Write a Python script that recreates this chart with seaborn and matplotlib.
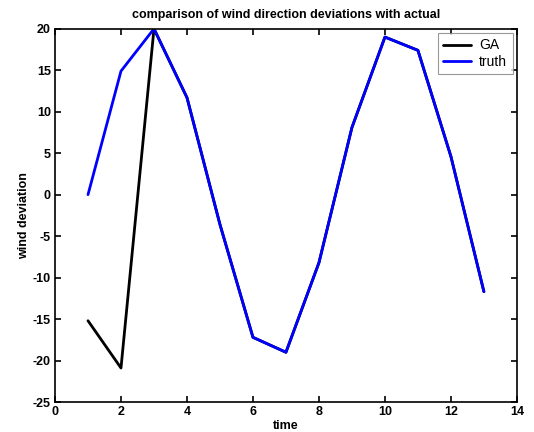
import pandas as pd
import matplotlib
matplotlib.use("Agg")
import matplotlib.pyplot as plt
import seaborn as sns

time = [1, 2, 3, 4, 5, 6, 7, 8, 9, 10, 11, 12, 13]
truth = [0.0, 14.9, 20.0, 11.7, -3.6, -17.2, -19.0, -8.2, 8.1, 19.0, 17.4, 4.6, -11.7]
ga = [-15.2, -20.9, 20.0, 11.7, -3.6, -17.2, -19.0, -8.2, 8.1, 19.0, 17.4, 4.6, -11.7]

df = pd.DataFrame({
    "time": time * 2,
    "value": ga + truth,
    "series": ["GA"] * len(ga) + ["truth"] * len(truth),
})

sns.set_style("ticks", {"axes.edgecolor": "black", "text.color": "black",
                        "xtick.color": "black", "ytick.color": "black",
                        "axes.labelcolor": "black"})
plt.rcParams["font.family"] = ["Liberation Sans", "DejaVu Sans"]
plt.rcParams["axes.unicode_minus"] = False

fig = plt.figure(figsize=(5.34, 4.32), dpi=100)
ax = fig.add_axes([0.103, 0.0694, 0.865, 0.864])
sns.lineplot(data=df, x="time", y="value", hue="series",
             hue_order=["GA", "truth"], palette=["black", "blue"],
             linewidth=2, ax=ax, legend=False)

ax.set_xlim(0, 14)
ax.set_ylim(-25, 20)
ax.set_xticks(range(0, 15, 2))
ax.set_yticks(range(-25, 21, 5))
ax.tick_params(direction="in", top=True, right=True, labelsize=9,
               length=4, width=1.2, pad=3)
for s in ax.spines.values():
    s.set_linewidth(1.2)
    s.set_visible(True)
for lab in ax.get_xticklabels() + ax.get_yticklabels():
    lab.set_fontweight("bold")

ax.set_xlabel("time", fontsize=9, fontweight="bold", labelpad=1)
ax.set_ylabel("wind deviation", fontsize=9, fontweight="bold", labelpad=2)
ax.set_title("comparison of wind direction deviations with actual",
             fontsize=9, fontweight="bold", pad=8)

lines = ax.get_lines()
leg = ax.legend(lines[:2], ["GA", "truth"], loc="upper right", fontsize=10,
                frameon=True, fancybox=False, edgecolor="gray",
                borderaxespad=0.3, borderpad=0.4, handlelength=2.0,
                handletextpad=0.6, labelspacing=0.15)
leg.get_frame().set_linewidth(0.8)

fig.savefig("out.png", dpi=100)
